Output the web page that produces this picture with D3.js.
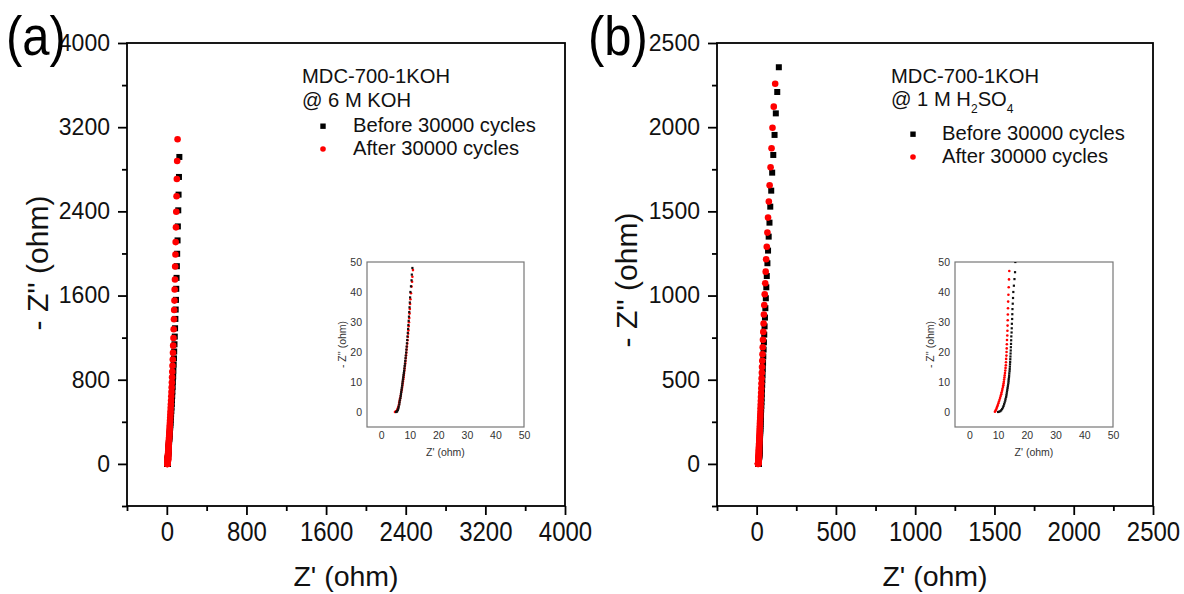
<!DOCTYPE html>
<html>
<head>
<meta charset="utf-8">
<script src="https://cdn.jsdelivr.net/npm/d3@7"></script>
<style>
  body { margin: 0; background: #fff; }
  svg { display: block; font-family: "Liberation Sans", Arial, sans-serif; }
</style>
</head>
<body>
<svg id="chart" width="1184" height="594"></svg>
<script>
// [Z' (ohm), -Z'' (ohm)]
const beforeA = [[126,2917],[122,2727],[118,2559],[115,2410],[111,2257],[108,2124],[104,1997],[101,1879],[98,1768],[95,1664],[92,1559],[89,1467],[86,1378],[83,1289],[80,1210],[77,1137],[74,1068],[72,1003],[69,942],[66,885],[64,831],[61,780],[59,733],[56,688],[54,646],[52,607],[50,570],[47,535],[45,502],[43,472],[41,443],[39,416],[37,391],[35.5,367],[34,345],[32,324],[30.5,304],[29,286],[27.5,268],[26,252],[25,237],[23.5,222],[22.5,209],[21.5,196],[20.5,184],[19.5,173],[18.5,162],[17.7,152],[17,143],[16.3,134],[15.6,126],[15,118],[14.5,111],[14,104],[13.5,98],[13.1,92],[12.7,86],[12.4,81],[12.1,76],[11.8,71],[11.6,67],[11.4,63],[11.2,59],[11,55],[10.9,51.5],[10.9,48],[10.7,45.8],[10.6,43.9],[10.4,41.9],[10.2,40],[10.1,38.2],[10,36.5],[9.9,34.9],[9.8,33.3],[9.7,31.8],[9.6,30.4],[9.5,29],[9.4,27.7],[9.3,26.4],[9.2,25.2],[9.1,24],[9,22.9],[8.9,21.8],[8.8,20.8],[8.7,19.8],[8.6,18.8],[8.5,17.9],[8.4,17],[8.3,16.1],[8.2,15.3],[8.1,14.5],[8,13.7],[7.9,13],[7.8,12.3],[7.7,11.6],[7.6,10.9],[7.5,10.2],[7.4,9.5],[7.3,8.8],[7.2,8.1],[7.1,7.4],[7,6.7],[6.9,6],[6.8,5.3],[6.7,4.6],[6.5,3.9],[6.4,3.2],[6.3,2.5],[6.1,1.8],[6,1.2],[5.8,0.7],[5.6,0.3],[5.4,0.1],[5.2,0]];

const afterA = [[108,3086],[104,2879],[101,2708],[98,2543],[95,2397],[92,2248],[89,2108],[87,1990],[84,1876],[82,1752],[79,1657],[77,1552],[74,1463],[72,1375],[69,1279],[67,1197],[64,1124],[62,1056],[60,992],[57,932],[55,876],[53,823],[51,773],[49,727],[47,683],[45,642],[43,603],[41,567],[39,533],[37.5,501],[36,471],[34.5,443],[33,416],[31.5,391],[30,368],[29,346],[27.5,325],[26.5,305],[25.5,287],[24.5,270],[23.5,254],[22.5,238],[21.5,224],[20.5,210],[19.7,198],[19,186],[18.3,175],[17.6,164],[17,154],[16.4,145],[15.8,136],[15.3,128],[14.8,120],[14.3,113],[13.9,106],[13.5,100],[13.1,94],[12.8,88],[12.5,83],[12.2,78],[12,73],[11.8,69],[11.6,65],[11.4,61],[11.3,57],[11.2,54],[11.2,50.5],[11.1,47.3],[10.9,45.1],[10.8,43.4],[10.6,41.8],[10.4,39.6],[10.2,37.6],[10.1,36],[10,34.3],[9.9,32.8],[9.8,31.3],[9.7,29.9],[9.6,28.6],[9.5,27.2],[9.4,26.1],[9.3,25],[9.2,23.9],[9.1,22.8],[9,21.8],[8.9,20.8],[8.8,19.8],[8.7,18.9],[8.6,18],[8.5,17.1],[8.4,16.2],[8.3,15.4],[8.2,14.6],[8.1,13.8],[8,13],[7.9,12.3],[7.8,11.6],[7.7,10.9],[7.6,10.2],[7.5,9.5],[7.4,8.8],[7.3,8.1],[7.2,7.4],[7,6.7],[6.9,6],[6.8,5.3],[6.6,4.6],[6.5,3.9],[6.3,3.2],[6.2,2.5],[6,1.8],[5.8,1.2],[5.6,0.7],[5.3,0.3],[5,0.1],[4.8,0]];

const beforeB = [[140,2356],[130,2209],[121,2082],[113,1954],[105,1835],[98,1730],[92,1623],[86,1528],[81,1433],[76,1350],[72,1267],[68,1192],[64,1116],[61,1049],[58,984],[55,925],[52.5,869],[50,817],[48,768],[46,722],[44,679],[42,638],[40.5,600],[39,564],[37.5,530],[36,498],[35,468],[33.5,440],[32.5,414],[31.5,389],[30.5,366],[29.5,344],[28.5,323],[27.7,304],[27,285],[26.2,268],[25.5,252],[24.8,237],[24.2,223],[23.6,209],[23,197],[22.4,185],[21.9,174],[21.4,163],[20.9,154],[20.4,144],[20,136],[19.6,128],[19.2,120],[18.8,113],[18.5,106],[18.2,99],[17.9,93],[17.6,88],[17.3,82],[17.1,77],[16.9,73],[16.7,68],[16.5,64],[16.3,60],[16.2,57],[16.1,53],[16,50],[15.9,46.6],[15.7,44.3],[15.5,42.1],[15.3,40],[15.2,38],[15.1,36.1],[15,34.3],[14.95,32.6],[14.9,31],[14.8,29.4],[14.75,27.9],[14.7,26.5],[14.6,25.2],[14.55,23.9],[14.5,22.7],[14.45,21.6],[14.4,20.5],[14.35,19.5],[14.3,18.5],[14.25,17.6],[14.2,16.7],[14.15,15.9],[14.1,15.1],[14.05,14.3],[14,13.6],[13.9,12.9],[13.85,12.2],[13.8,11.6],[13.7,11],[13.65,10.4],[13.6,9.8],[13.5,9.2],[13.4,8.6],[13.3,8],[13.2,7.4],[13.1,6.8],[13,6.2],[12.9,5.6],[12.8,5],[12.6,4.4],[12.5,3.8],[12.3,3.2],[12.1,2.6],[11.9,2],[11.7,1.5],[11.4,1],[11.1,0.6],[10.8,0.3],[10.4,0.1],[10,0]];

const afterB = [[117,2258],[108,2122],[100,1997],[94,1875],[88,1762],[82,1655],[77,1558],[72,1463],[68,1374],[64,1290],[60,1216],[57,1142],[54,1073],[51,1008],[48,944],[46,887],[44,834],[42,784],[40,737],[38.5,693],[37,651],[35.5,612],[34,575],[33,541],[31.5,508],[30.5,478],[29.5,449],[28.5,422],[27.5,397],[26.5,373],[25.5,351],[24.7,330],[24,310],[23.2,291],[22.5,274],[21.8,257],[21.2,242],[20.6,227],[20,214],[19.5,201],[19,189],[18.5,177],[18,167],[17.6,157],[17.2,147],[16.8,138],[16.4,130],[16.1,122],[15.8,115],[15.5,108],[15.3,101],[15.1,95],[14.9,89],[14.7,84],[14.6,79],[14.5,74],[14.4,70],[14.3,65],[14.2,61],[14.2,58],[14.1,54],[14,51],[13.9,47],[13.8,44.2],[13.7,41.6],[13.6,39.1],[13.5,36.8],[13.45,34.6],[13.4,32.5],[13.35,30.6],[13.3,28.8],[13.25,27.1],[13.2,25.5],[13.1,24],[13.05,22.6],[13,21.2],[12.95,20],[12.9,18.8],[12.8,17.7],[12.75,16.6],[12.7,15.6],[12.6,14.7],[12.5,13.8],[12.4,13],[12.3,12.2],[12.2,11.5],[12.1,10.8],[12,10.1],[11.9,9.5],[11.8,8.9],[11.7,8.3],[11.5,7.7],[11.4,7.1],[11.2,6.5],[11.1,5.9],[10.9,5.3],[10.7,4.7],[10.5,4.1],[10.3,3.5],[10.1,2.9],[9.9,2.3],[9.7,1.8],[9.5,1.3],[9.3,0.8],[9.1,0.4],[8.9,0.1]];

const majorTicksA = [0, 800, 1600, 2400, 3200, 4000];
const minorTicksA = [-400, 400, 1200, 2000, 2800, 3600];
const majorTicksB = [0, 500, 1000, 1500, 2000, 2500];
const minorTicksB = [-250, 250, 750, 1250, 1750, 2250];
const insetTicks = [0, 10, 20, 30, 40, 50];
const legendLabels = ["Before 30000 cycles", "After 30000 cycles"];

const svg = d3.select("#chart");
const ink = "#111";

const panelA = {
  tag: "(a)", tagX: 6,
  left: 127, right: 565, top: 43, bottom: 506,
  domain: [-400, 4000], major: majorTicksA, minor: minorTicksA,
  yTitleX: 37, yTitleY: 263,
  inset: { left: 367, right: 524, top: 262, bottom: 427 },
  legendX: 302, markerX: 323, textX: 353, rowY: [132, 155],
  title2: "6 M KOH"
};
const panelB = {
  tag: "(b)", tagX: 588,
  left: 717, right: 1153, top: 43, bottom: 506,
  domain: [-250, 2500], major: majorTicksB, minor: minorTicksB,
  yTitleX: 626, yTitleY: 280,
  inset: { left: 955, right: 1113, top: 262, bottom: 427 },
  legendX: 891, markerX: 913, textX: 942, rowY: [140, 163],
  title2: null
};

function styleAxis(sel, width, color) {
  sel.select(".domain").remove();
  sel.selectAll(".tick line").attr("stroke", color).attr("stroke-width", width);
  sel.selectAll(".tick text").attr("fill", color).attr("font-family", null);
}

function drawPanel(p, before, after) {
  const x = d3.scaleLinear().domain(p.domain).range([p.left, p.right]);
  const y = d3.scaleLinear().domain(p.domain).range([p.bottom, p.top]);
  const g = svg.append("g");

  // minor ticks
  g.append("g").attr("transform", `translate(0,${p.bottom})`)
    .call(d3.axisBottom(x).tickValues(p.minor).tickSize(5).tickFormat(""))
    .call(styleAxis, 1.8, "#000");
  g.append("g").attr("transform", `translate(${p.left},0)`)
    .call(d3.axisLeft(y).tickValues(p.minor).tickSize(5).tickFormat(""))
    .call(styleAxis, 1.8, "#000");

  // major ticks + labels
  const xa = g.append("g").attr("transform", `translate(0,${p.bottom})`)
    .call(d3.axisBottom(x).tickValues(p.major).tickSize(9).tickFormat(d3.format("d")))
    .call(styleAxis, 1.8, "#000");
  xa.selectAll(".tick text")
    .attr("y", 0).attr("dy", 0)
    .attr("transform", "translate(0,35) scale(1,1.12)")
    .attr("font-size", 24).attr("fill", ink);

  const ya = g.append("g").attr("transform", `translate(${p.left},0)`)
    .call(d3.axisLeft(y).tickValues(p.major).tickSize(9).tickPadding(8).tickFormat(d3.format("d")))
    .call(styleAxis, 1.8, "#000");
  ya.selectAll(".tick text").attr("font-size", 23).attr("fill", ink);

  g.append("rect")
    .attr("x", p.left).attr("y", p.top)
    .attr("width", p.right - p.left).attr("height", p.bottom - p.top)
    .attr("fill", "none").attr("stroke", "#000").attr("stroke-width", 1.8);

  // titles
  g.append("text")
    .attr("x", (p.left + p.right) / 2).attr("y", 586)
    .attr("text-anchor", "middle").attr("font-size", 28.5).attr("fill", ink)
    .text("Z' (ohm)");
  g.append("text")
    .attr("transform", `translate(${p.yTitleX + 11},${p.yTitleY}) rotate(-90)`)
    .attr("text-anchor", "middle").attr("font-size", 30).attr("fill", ink)
    .text("- Z'' (ohm)");
  g.append("text")
    .attr("transform", `translate(${p.tagX},55) scale(1,1.12)`)
    .attr("font-size", 49).attr("fill", "#000")
    .text(p.tag);

  // data
  g.append("g").selectAll("rect").data(before).join("rect")
    .attr("x", d => x(d[0]) - 3).attr("y", d => y(d[1]) - 3)
    .attr("width", 6).attr("height", 6).attr("fill", "#000");
  g.append("g").selectAll("circle").data(after).join("circle")
    .attr("cx", d => x(d[0])).attr("cy", d => y(d[1]))
    .attr("r", 3.3).attr("fill", "#f00");

  // legend
  const lg = g.append("g").attr("font-size", 20.2).attr("fill", ink);
  lg.append("text").attr("x", p.legendX).attr("y", 83).text("MDC-700-1KOH");
  if (p.title2) {
    lg.append("text").attr("x", p.legendX).attr("y", 107).text("@ " + p.title2);
  } else {
    const t = lg.append("text").attr("x", p.legendX).attr("y", 106);
    t.append("tspan").text("@ 1 M H");
    t.append("tspan").attr("font-size", 12).attr("dy", 7).text("2");
    t.append("tspan").attr("dy", -7).text("SO");
    t.append("tspan").attr("font-size", 12).attr("dy", 7).text("4");
  }
  lg.append("rect").attr("x", p.markerX - 2.7).attr("y", p.rowY[0] - 8.5)
    .attr("width", 5.4).attr("height", 5.4).attr("fill", "#000");
  lg.append("circle").attr("cx", p.markerX).attr("cy", p.rowY[1] - 6)
    .attr("r", 2.8).attr("fill", "#f00");
  legendLabels.forEach((s, i) => {
    lg.append("text").attr("x", p.textX).attr("y", p.rowY[i]).text(s);
  });

  drawInset(g, p.inset, before, after, p.tag);
}

function drawInset(g, r, before, after, tag) {
  const x = d3.scaleLinear().domain([-5, 50]).range([r.left, r.right]);
  const y = d3.scaleLinear().domain([-5, 50]).range([r.bottom, r.top]);
  const grey = "#333";
  const ig = g.append("g");
  const clipId = "clip" + tag.replace(/\W/g, "");
  ig.append("clipPath").attr("id", clipId).append("rect")
    .attr("x", r.left).attr("y", r.top)
    .attr("width", r.right - r.left).attr("height", r.bottom - r.top);

  const xa = ig.append("g").attr("transform", `translate(0,${r.bottom})`)
    .call(d3.axisBottom(x).tickValues(insetTicks).tickSize(0).tickPadding(5))
    .call(styleAxis, 1, grey);
  xa.selectAll(".tick text").attr("font-size", 10.5);
  const ya = ig.append("g").attr("transform", `translate(${r.left},0)`)
    .call(d3.axisLeft(y).tickValues(insetTicks).tickSize(0).tickPadding(5))
    .call(styleAxis, 1, grey);
  ya.selectAll(".tick text").attr("font-size", 10.5);

  ig.append("rect")
    .attr("x", r.left).attr("y", r.top)
    .attr("width", r.right - r.left).attr("height", r.bottom - r.top)
    .attr("fill", "none").attr("stroke", "#777").attr("stroke-width", 1.2);

  ig.append("text")
    .attr("x", (r.left + r.right) / 2).attr("y", r.bottom + 29)
    .attr("text-anchor", "middle").attr("font-size", 10.5).attr("fill", grey)
    .text("Z' (ohm)");
  ig.append("text")
    .attr("transform", `translate(${r.left - 21},${(r.top + r.bottom) / 2}) rotate(-90)`)
    .attr("text-anchor", "middle").attr("font-size", 10.5).attr("fill", grey)
    .text("- Z'' (ohm)");

  const pts = ig.append("g").attr("clip-path", `url(#${clipId})`);
  pts.append("g").selectAll("circle").data(after.filter(d => d[1] <= 52)).join("circle")
    .attr("cx", d => x(d[0])).attr("cy", d => y(d[1]))
    .attr("r", 1.3).attr("fill", "#f00");
  pts.append("g").selectAll("rect").data(before.filter(d => d[1] <= 52)).join("rect")
    .attr("x", d => x(d[0]) - 1.1).attr("y", d => y(d[1]) - 1.1)
    .attr("width", 2.2).attr("height", 2.2).attr("fill", "#111");
}

drawPanel(panelA, beforeA, afterA);
drawPanel(panelB, beforeB, afterB);
</script>
</body>
</html>
